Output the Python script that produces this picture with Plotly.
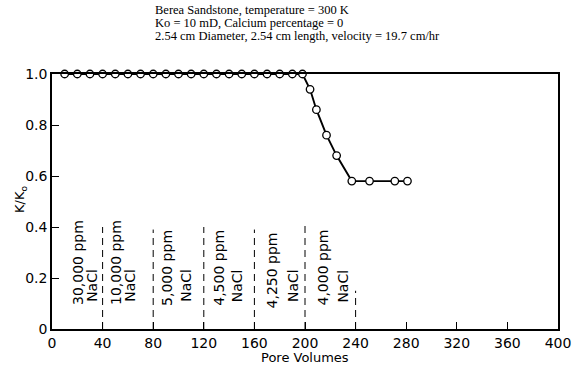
import plotly.graph_objects as go

# ---------------- data ----------------
pore_volumes = [10, 20, 30, 40, 50, 60, 70, 80, 90, 100, 110, 120, 130, 140, 150,
                160, 170, 180, 190, 198, 204, 209, 217, 225, 237, 251, 271, 281]
k_ratio = [1.0, 1.0, 1.0, 1.0, 1.0, 1.0, 1.0, 1.0, 1.0, 1.0, 1.0, 1.0, 1.0, 1.0, 1.0,
           1.0, 1.0, 1.0, 1.0, 1.0, 0.94, 0.86, 0.76, 0.68, 0.58, 0.58, 0.58, 0.58]

boundary_pv = [40, 80, 120, 160, 200, 240]
boundary_top = [0.40, 0.39, 0.40, 0.39, 0.41, 0.15]

ppm_labels = ["30,000 ppm", "10,000 ppm", "5,000 ppm", "4,500 ppm", "4,250 ppm", "4,000 ppm"]
ppm_x = [20, 50, 91, 132, 174, 214]
ppm_y = [0.26, 0.26, 0.24, 0.24, 0.23, 0.24]
nacl_x = [31, 61, 106, 146, 190, 230]
nacl_y = [0.17, 0.17, 0.17, 0.17, 0.17, 0.17]
nacl_label = "NaCl"

x_ticks = [0, 40, 80, 120, 160, 200, 240, 280, 320, 360, 400]
y_ticks = [0, 0.2, 0.4, 0.6, 0.8, 1.0]
y_tick_text = ["0", "0.2", "0.4", "0.6", "0.8", "1.0"]

x_title = "Pore Volumes"
y_title = "K/K<sub>o</sub>"
title_lines = [
    "Berea Sandstone, temperature = 300 K",
    "Ko = 10 mD, Calcium percentage = 0",
    "2.54 cm Diameter, 2.54 cm length, velocity = 19.7 cm/hr",
]

# ---------------- layout geometry ----------------
W, H = 584, 367
L, R, T, B = 52, 26, 74, 38
PW, PH = W - L - R, H - T - B


def px_to_paper(px, py):
    return (px - L) / PW, (H - B - py) / PH


SANS = "DejaVu Sans"
SERIF = "Liberation Serif"

fig = go.Figure()

fig.add_trace(go.Scatter(
    x=pore_volumes, y=k_ratio, mode="lines+markers",
    line=dict(color="black", width=1.9),
    marker=dict(symbol="circle", size=7.5, color="white",
                line=dict(color="black", width=1.3)),
    cliponaxis=False, showlegend=False, hoverinfo="skip",
))

shapes = []
for xv, top in zip(boundary_pv, boundary_top):
    shapes.append(dict(type="line", xref="x", yref="y", x0=xv, x1=xv, y0=0, y1=top,
                       line=dict(color="black", width=1, dash="7px,5px")))

annotations = []
for txt, xv, yv in zip(ppm_labels, ppm_x, ppm_y):
    annotations.append(dict(x=xv, y=yv, xref="x", yref="y", text=txt, showarrow=False,
                            textangle=-90, xanchor="center", yanchor="middle",
                            font=dict(family=SANS, size=14, color="black")))
for xv, yv in zip(nacl_x, nacl_y):
    annotations.append(dict(x=xv, y=yv, xref="x", yref="y", text=nacl_label, showarrow=False,
                            textangle=-90, xanchor="center", yanchor="middle",
                            font=dict(family=SANS, size=14, color="black")))

title_y_px = [9.5, 22.5, 35.5]
for line, py in zip(title_lines, title_y_px):
    ax, ay = px_to_paper(153, py)
    annotations.append(dict(x=ax, y=ay, xref="paper", yref="paper", text=line,
                            showarrow=False, xanchor="left", yanchor="middle",
                            font=dict(family=SERIF, size=12.5, color="black")))

# axis titles placed as annotations for exact positioning
xt_x, xt_y = px_to_paper(305, 357)
annotations.append(dict(x=xt_x, y=xt_y, xref="paper", yref="paper", text=x_title,
                        showarrow=False, xanchor="center", yanchor="middle",
                        font=dict(family=SANS, size=13, color="black")))
yt_x, yt_y = px_to_paper(20, 200)
annotations.append(dict(x=yt_x, y=yt_y, xref="paper", yref="paper", text=y_title,
                        showarrow=False, xanchor="center", yanchor="middle", textangle=-90,
                        font=dict(family=SANS, size=13, color="black")))

fig.update_layout(
    width=W, height=H,
    margin=dict(l=L, r=R, t=T, b=B, pad=0, autoexpand=False),
    paper_bgcolor="white", plot_bgcolor="white",
    shapes=shapes, annotations=annotations,
    showlegend=False,
    xaxis=dict(
        range=[0, 400], tickvals=x_ticks, ticks="inside", ticklen=7, tickwidth=1.2,
        tickcolor="black", showline=True, mirror=True, linecolor="black", linewidth=1.6,
        showgrid=False, zeroline=False, automargin=False,
        tickfont=dict(family=SANS, size=14, color="black"),
    ),
    yaxis=dict(
        range=[0, 1.0], tickvals=y_ticks, ticktext=y_tick_text, ticks="inside", ticklen=7,
        tickwidth=1.2, tickcolor="black", showline=True, mirror=True, linecolor="black",
        linewidth=1.6, showgrid=False, zeroline=False, automargin=False,
        tickfont=dict(family=SANS, size=14, color="black"),
    ),
)

fig.write_html("out.html")
